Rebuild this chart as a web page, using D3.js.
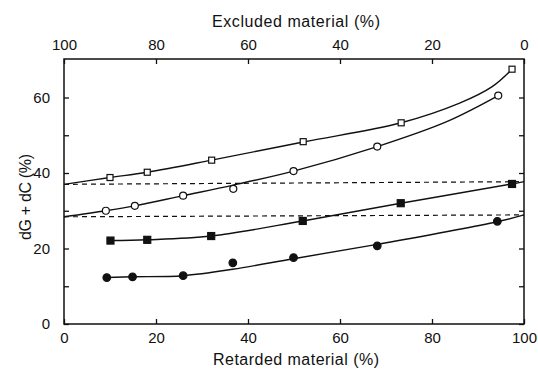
<!DOCTYPE html>
<html><head><meta charset="utf-8">
<script src="https://cdn.jsdelivr.net/npm/d3@7"></script>
<style>body{margin:0;background:#fff}text{font-family:"Liberation Sans",Arial,sans-serif;fill:#111}</style>
</head><body><svg id="c" width="538" height="369"></svg>
<script>
// ---- data ----
const xTicks = [0, 20, 40, 60, 80, 100];          // retarded material (%)
const topTicks = [100, 80, 60, 40, 20, 0];        // excluded material (%)
const yTicks = [0, 20, 40, 60];
const yMinor = [10, 30, 50];

// marker series
const openSqX   = [10, 18.1, 32.1, 52, 73.3, 97.4];
const openSqY   = [38.8, 40.2, 43.4, 48.3, 53.3, 67.5];
const openCircX = [9.1, 15.4, 25.9, 36.8, 49.9, 68.1, 94.4];
const openCircY = [30.0, 31.3, 34.0, 35.8, 40.5, 47.0, 60.5];
const fillSqX   = [10.1, 18.1, 32.0, 51.9, 73.2, 97.4];
const fillSqY   = [22.1, 22.3, 23.3, 27.3, 32.0, 37.1];
const fillCircX = [9.3, 14.9, 25.9, 36.7, 49.9, 68.1, 94.2];
const fillCircY = [12.3, 12.5, 12.8, 16.2, 17.6, 20.7, 27.2];

// fitted curves as traced in the reference
const fitOpenSqX   = [0, 10, 18.1, 32.1, 52, 73.3, 86, 93, 97.4];
const fitOpenSqY   = [37.0, 38.8, 40.2, 43.4, 48.2, 53.3, 58.5, 62.8, 67.5];
const fitOpenCircX = [0, 9.1, 15.4, 25.9, 36.8, 49.9, 68.1, 83.2, 94.4];
const fitOpenCircY = [28.4, 30.0, 31.3, 34.0, 36.8, 40.5, 47.0, 53.6, 60.5];
const fitFillSqX   = [10.1, 18.1, 32.0, 51.9, 73.2, 97.4, 100];
const fitFillSqY   = [22.1, 22.3, 23.3, 27.3, 32.0, 37.1, 37.7];
const fitFillCircX = [9.3, 14.9, 25.9, 36.7, 49.9, 68.1, 94.2, 100];
const fitFillCircY = [12.3, 12.5, 12.8, 14.5, 17.3, 21.1, 27.1, 28.9];

// dashed reference lines
const dashX  = [0, 100];
const dashUY = [37.0, 37.7];
const dashLY = [28.4, 28.9];

// ---- drawing ----
const svg = d3.select("#c");
const L = 64, R = 524, T = 59, B = 324;
const x = d3.scaleLinear().domain([0, 100]).range([L, R]);
const xt = d3.scaleLinear().domain([100, 0]).range([L, R]);
const y = d3.scaleLinear().domain([0, 70.2]).range([B, T]);
const zip = (a, b) => a.map((v, i) => [v, b[i]]);
const ink = "#111";

// frame
svg.append("rect").attr("x", L).attr("y", T).attr("width", R - L).attr("height", B - T)
  .attr("fill", "none").attr("stroke", ink).attr("stroke-width", 1.5);

// axes (ticks inward)
const tl = 5;
const gB = svg.append("g").attr("transform", `translate(0,${B})`)
  .call(d3.axisBottom(x).tickValues(xTicks).tickSize(-tl).tickPadding(8).tickFormat(d3.format("d")));
const gT = svg.append("g").attr("transform", `translate(0,${T})`)
  .call(d3.axisTop(xt).tickValues(topTicks).tickSize(-tl).tickPadding(9).tickFormat(d3.format("d")));
const gL = svg.append("g").attr("transform", `translate(${L},0)`)
  .call(d3.axisLeft(y).tickValues(yTicks.concat(yMinor)).tickSize(-tl).tickPadding(14)
    .tickFormat(d => yTicks.includes(d) ? d : ""));
const gR = svg.append("g").attr("transform", `translate(${R},0)`)
  .call(d3.axisRight(y).tickValues(yTicks.concat(yMinor)).tickSize(-tl).tickFormat(""));
[gB, gT, gL, gR].forEach(g => {
  g.select(".domain").remove();
  g.selectAll(".tick line").attr("stroke", ink).attr("stroke-width", 1.3);
  g.selectAll(".tick text").attr("font-size", 15).attr("font-family", "Liberation Sans, Arial, sans-serif").attr("fill", ink);
});

// titles
svg.append("text").attr("x", 296).attr("y", 27).attr("text-anchor", "middle")
  .attr("font-size", 16).attr("textLength", 168).text("Excluded material (%)");
svg.append("text").attr("x", 296).attr("y", 365).attr("text-anchor", "middle")
  .attr("font-size", 16).attr("textLength", 166).text("Retarded material (%)");
svg.append("text").attr("transform", "translate(31,197) rotate(-90)").attr("text-anchor", "middle")
  .attr("font-size", 16).attr("textLength", 86).text("dG + dC (%)");

// dashed lines
const line = d3.line().x(d => x(d[0])).y(d => y(d[1]));
[dashUY, dashLY].forEach(dy => {
  svg.append("path").datum(zip(dashX, dy)).attr("d", line)
    .attr("fill", "none").attr("stroke", ink).attr("stroke-width", 1.2).attr("stroke-dasharray", "5,4");
});

// fitted curves
const curve = d3.line().x(d => x(d[0])).y(d => y(d[1])).curve(d3.curveCatmullRom.alpha(0.5));
[[fitOpenSqX, fitOpenSqY], [fitOpenCircX, fitOpenCircY], [fitFillSqX, fitFillSqY], [fitFillCircX, fitFillCircY]]
  .forEach(([a, b]) => {
    svg.append("path").datum(zip(a, b)).attr("d", curve)
      .attr("fill", "none").attr("stroke", ink).attr("stroke-width", 1.4);
  });

// markers
const sq = (data, s, filled) => svg.append("g").selectAll("rect").data(data).join("rect")
  .attr("x", d => x(d[0]) - s / 2).attr("y", d => y(d[1]) - s / 2).attr("width", s).attr("height", s)
  .attr("fill", filled ? ink : "#fff").attr("stroke", ink).attr("stroke-width", 1.2);
const ci = (data, r, filled) => svg.append("g").selectAll("circle").data(data).join("circle")
  .attr("cx", d => x(d[0])).attr("cy", d => y(d[1])).attr("r", r)
  .attr("fill", filled ? ink : "#fff").attr("stroke", ink).attr("stroke-width", 1.2);
sq(zip(openSqX, openSqY), 6, false);
ci(zip(openCircX, openCircY), 3.5, false);
sq(zip(fillSqX, fillSqY), 7, true);
ci(zip(fillCircX, fillCircY), 3.8, true);
</script></body></html>
